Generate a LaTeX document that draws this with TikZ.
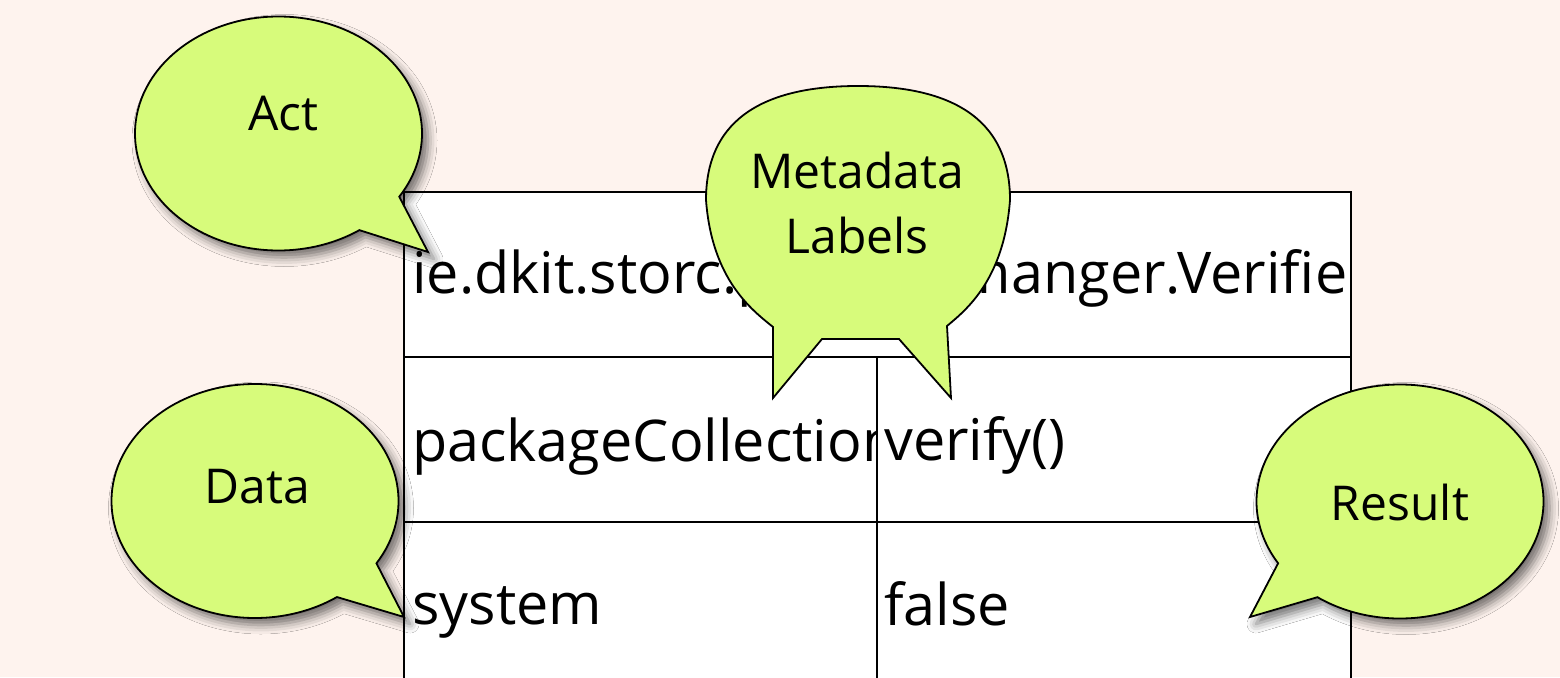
\documentclass[tikz,border=0pt]{standalone}
\usepackage{fontspec}
\setmainfont{Open Sans}
\usetikzlibrary{shapes.callouts,shadows.blur}

\definecolor{pagebg}{RGB}{254,243,238}
\definecolor{bubblegreen}{RGB}{215,251,123}

\tikzset{
  cell/.style={draw=black, line width=2pt, fill=white, minimum width=#1,
    minimum height=165pt, inner sep=0pt, outer sep=0pt},
  celltext/.style={anchor=base west, inner sep=0pt, font=\fontsize{57.5}{68}\selectfont},
  bubbleshadow/.style={blur shadow={shadow xshift=6pt, shadow yshift=-7pt,
    shadow blur radius=9pt, shadow opacity=55}},
  bubble/.style={ellipse callout, draw=black, line width=1.8pt, fill=bubblegreen,
    inner sep=0pt, minimum width=287pt, minimum height=234pt,
    callout pointer arc=23, bubbleshadow},
  metabubble/.style={draw=black, line width=1.8pt, fill=bubblegreen, line join=miter},
  bubbletext/.style={anchor=base, inner sep=0pt, font=\fontsize{48}{65}\selectfont,
    align=center},
}

\begin{document}
\begin{tikzpicture}[x=1pt,y=-1pt]
\useasboundingbox (0,0) rectangle (1560,677);
\clip (0,0) rectangle (1560,677);
\fill[pagebg] (0,0) rectangle (1560,677);

% table cells
\node[cell=947pt] (head) at (877.5,274.5) {};
\node[cell=473pt] (c21) at (640.5,439.5) {};
\node[cell=474pt] (c22) at (1114,439.5) {};
\node[cell=473pt] (c31) at (640.5,604.5) {};
\node[cell=474pt] (c32) at (1114,604.5) {};

% cell texts, cut off at the cell borders
\begin{scope}
  \clip (head.south west) rectangle (head.north east);
  \node[celltext] (headtext) at (412,293) {ie.dkit.storc.packagemanger.Verifier};
\end{scope}
\begin{scope}
  \clip (c21.south west) rectangle (c21.north east);
  \node[celltext] (t21) at (412,461) {packageCollection};
\end{scope}
\begin{scope}
  \clip (c22.south west) rectangle (c22.north east);
  \node[celltext] (t22) at (884,460) {verify()};
\end{scope}
\begin{scope}
  \clip (c31.south west) rectangle (c31.north east);
  \node[celltext] (t31) at (412,624) {system};
\end{scope}
\begin{scope}
  \clip (c32.south west) rectangle (c32.north east);
  \node[celltext] (t32) at (884,625) {false};
\end{scope}

% speech bubbles
\node[bubble, callout absolute pointer={(428,252)}] (act) at (278.5,133.5) {};
\node[bubbletext] (acttext) at (283.5,130) {Act};

\node[bubble, callout absolute pointer={(404,617)}] (data) at (255,501) {};
\node[bubbletext] (datatext) at (257.5,503) {Data};

\node[bubble, callout absolute pointer={(1250,617)}] (result) at (1400,501.5) {};
\node[bubbletext] (resulttext) at (1400,520) {Result};

% two-tailed bubble over the header
\draw[metabubble] (773,327) .. controls (752,310) and (712,280) .. (706,200)
  .. controls (706,115) and (770,86) .. (858,86)
  .. controls (946,86) and (1010,115) .. (1010,200)
  .. controls (1004,280) and (966,310) .. (947,326)
  -- (951,398) -- (899,339) -- (822,339) -- (773,398) -- cycle;
\node[bubbletext] (metatext) at (857,253) {Metadata\\Labels};
\end{tikzpicture}
\end{document}
